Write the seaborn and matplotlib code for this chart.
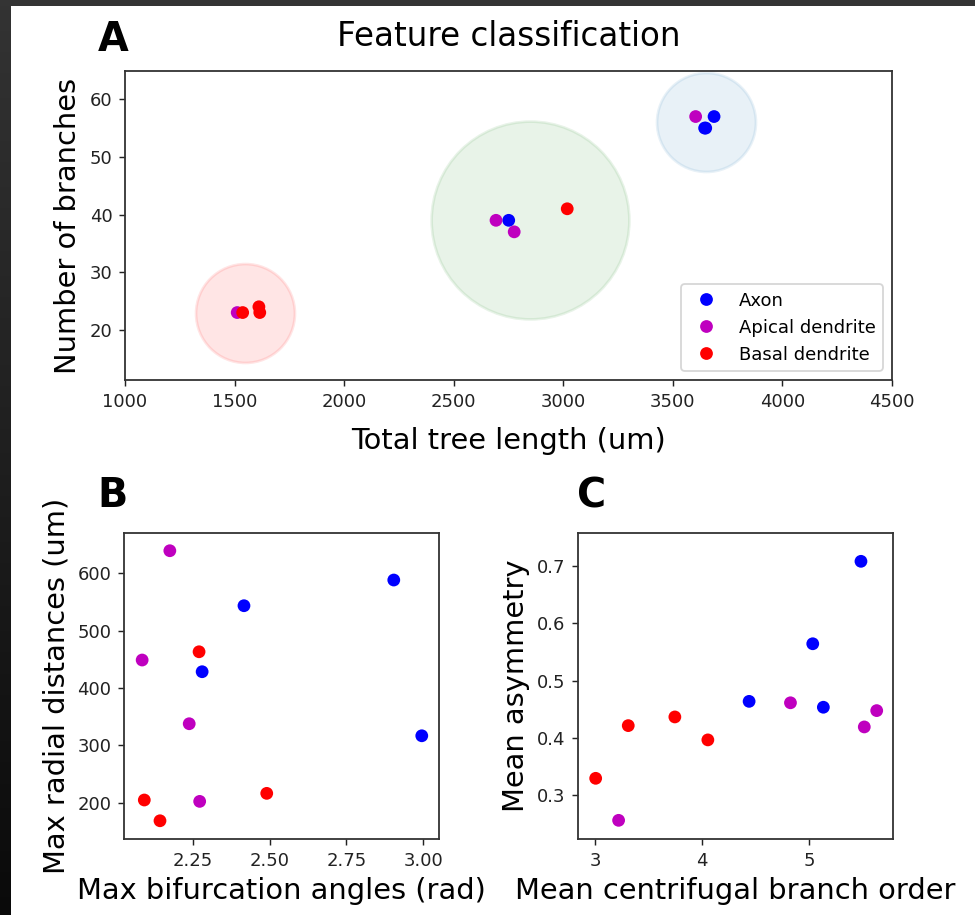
import numpy as np
import pandas as pd
import matplotlib
matplotlib.use("Agg")
import matplotlib.pyplot as plt
import seaborn as sns
from matplotlib.patches import Rectangle

# ---------------- data ----------------
classes = ["Axon", "Apical dendrite", "Basal dendrite"]
class_colors = ["#0000ff", "#bf00bf", "#ff0000"]

# Panel A: total tree length vs number of branches
a_len_axon = [2751, 3645, 3688, 3650]
a_br_axon = [39, 55, 57, 55]
a_len_apical = [2693, 2776, 3604, 1512]
a_br_apical = [39, 37, 57, 23]
a_len_basal = [1537, 1611, 1615, 3018]
a_br_basal = [23, 24, 23, 41]

# cluster circles in panel A
circle_x = [1548, 2848, 3651]
circle_y = [23, 39, 56]
circle_size = [3000, 12000, 3000]
circle_colors = ["#ff0000", "#228b22", "#1f77b4"]

# Panel B: max bifurcation angle vs max radial distance
b_ang_axon = [2.417, 2.281, 2.904, 2.995]
b_rad_axon = [543.5, 428.4, 588.3, 316.7]
b_ang_apical = [2.176, 2.086, 2.239, 2.273]
b_rad_apical = [639.4, 448.8, 337.7, 202.3]
b_ang_basal = [2.271, 2.093, 2.144, 2.491]
b_rad_basal = [463.2, 204.7, 168.5, 216.3]

# Panel C: mean centrifugal branch order vs mean asymmetry
c_ord_axon = [4.438, 5.032, 5.131, 5.482]
c_asy_axon = [0.4635, 0.5644, 0.4532, 0.7088]
c_ord_apical = [3.22, 4.824, 5.513, 5.629]
c_asy_apical = [0.2551, 0.461, 0.4187, 0.4473]
c_ord_basal = [3.006, 3.31, 3.745, 4.053]
c_asy_basal = [0.3287, 0.421, 0.4362, 0.396]

a_xticks = [1000, 1500, 2000, 2500, 3000, 3500, 4000, 4500]
a_yticks = [20, 30, 40, 50, 60]
b_xticks = [2.25, 2.50, 2.75, 3.00]
b_yticks = [200, 300, 400, 500, 600]
c_xticks = [3, 4, 5]
c_yticks = [0.3, 0.4, 0.5, 0.6, 0.7]


def frame(xa, ya, xp, yp, xb, yb, cols):
    return pd.DataFrame({
        cols[0]: list(xa) + list(xp) + list(xb),
        cols[1]: list(ya) + list(yp) + list(yb),
        "type": [classes[0]] * len(xa) + [classes[1]] * len(xp) + [classes[2]] * len(xb),
    })


dfA = frame(a_len_axon, a_br_axon, a_len_apical, a_br_apical, a_len_basal, a_br_basal, ["len", "br"])
dfB = frame(b_ang_axon, b_rad_axon, b_ang_apical, b_rad_apical, b_ang_basal, b_rad_basal, ["ang", "rad"])
dfC = frame(c_ord_axon, c_asy_axon, c_ord_apical, c_asy_apical, c_ord_basal, c_asy_basal, ["ord", "asy"])
dfCirc = pd.DataFrame({"x": circle_x, "y": circle_y, "s": circle_size, "c": circle_colors})

palette = dict(zip(classes, class_colors))
PT_S = 50

# ---------------- figure ----------------
DPI = 130
W, H = 975, 915
fig = plt.figure(figsize=(W / DPI, H / DPI), dpi=DPI, facecolor="#343434")
fig.add_artist(Rectangle((11 / W, 0), 1 - 11 / W, 1 - 6 / H, transform=fig.transFigure,
                         facecolor="white", edgecolor="none", zorder=-10))
# left dark strip gradient
gax = fig.add_axes([0, 0, 11 / W, 1 - 6 / H])
grad = np.linspace(0.2, 0.04, 256).reshape(-1, 1)
gax.imshow(np.dstack([grad, grad, grad]), aspect="auto", extent=(0, 1, 0, 1))
gax.set_axis_off()

axA = fig.add_axes([125 / W, 1 - 380 / H, (892 - 125) / W, (380 - 71) / H])
axB = fig.add_axes([124 / W, 1 - 839 / H, (439 - 124) / W, (839 - 533) / H])
axC = fig.add_axes([578 / W, 1 - 839 / H, (893 - 578) / W, (839 - 533) / H])

# circles
for _, r in dfCirc.iterrows():
    sns.scatterplot(x=[r["x"]], y=[r["y"]], s=r["s"], color=r["c"], alpha=0.1,
                    edgecolor=r["c"], linewidth=1.5, ax=axA, legend=False, zorder=1)

sns.scatterplot(data=dfA, x="len", y="br", hue="type", palette=palette, hue_order=classes,
                s=PT_S, linewidth=0, ax=axA, zorder=2)
handles, labels = axA.get_legend_handles_labels()
axA.legend(handles[-3:], labels[-3:], loc="lower right", fontsize=10)

axA.set_xlim(1000, 4500)
axA.set_ylim(11.3, 64.9)
axA.set_xticks(a_xticks)
axA.set_yticks(a_yticks)
axA.set_xlabel("Total tree length (um)", fontsize=16, labelpad=9)
axA.set_ylabel("Number of branches", fontsize=16)
axA.set_title("Feature classification", fontsize=18, pad=14)

sns.scatterplot(data=dfB, x="ang", y="rad", hue="type", palette=palette, hue_order=classes,
                s=PT_S, linewidth=0, ax=axB, legend=False)
axB.set_xlim(2.027, 3.051)
axB.set_ylim(136.7, 670.3)
axB.set_xticks(b_xticks)
axB.set_yticks(b_yticks)
axB.set_xlabel("Max bifurcation angles (rad)", fontsize=16)
axB.set_ylabel("Max radial distances (um)", fontsize=16)

sns.scatterplot(data=dfC, x="ord", y="asy", hue="type", palette=palette, hue_order=classes,
                s=PT_S, linewidth=0, ax=axC, legend=False)
axC.set_xlim(2.841, 5.781)
axC.set_ylim(0.2224, 0.7584)
axC.set_xticks(c_xticks)
axC.set_yticks(c_yticks)
axC.set_xlabel("Mean centrifugal branch order", fontsize=16)
axC.set_ylabel("Mean asymmetry", fontsize=16)

for ax in (axA, axB, axC):
    ax.tick_params(labelsize=10, colors="#222222")
    for sp in ax.spines.values():
        sp.set_color("#333333")
        sp.set_linewidth(1.0)

fig.text(98 / W, 1 - 51 / H, "A", fontsize=22, fontweight="bold", ha="left", va="baseline")
fig.text(97 / W, 1 - 507 / H, "B", fontsize=22, fontweight="bold", ha="left", va="baseline")
fig.text(577 / W, 1 - 507 / H, "C", fontsize=22, fontweight="bold", ha="left", va="baseline")

fig.savefig("out.png", dpi=DPI, facecolor=fig.get_facecolor())
